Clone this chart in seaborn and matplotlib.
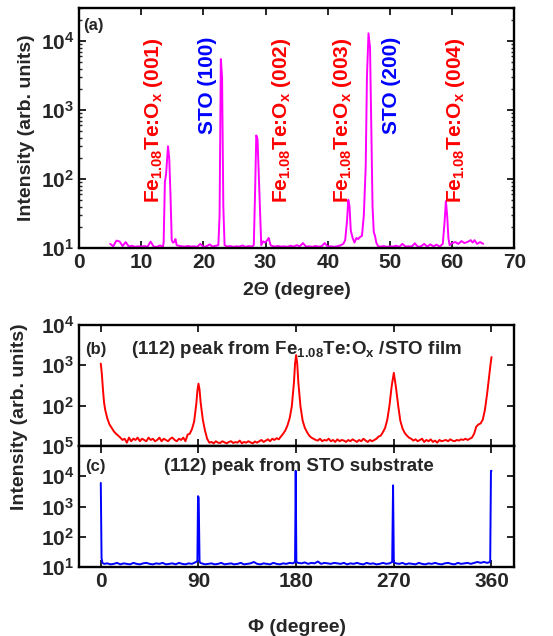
import matplotlib
matplotlib.use("Agg")
import matplotlib.pyplot as plt
import matplotlib.ticker as mticker
import matplotlib.transforms as mtrans
import numpy as np
import seaborn as sns

# ---- panel (a): 2theta scan ----
tt_deg = [5.0, 5.5, 6.0, 6.5, 7.0, 7.5, 8.0, 8.5, 9.0, 9.5, 10.0, 10.5, 11.0, 11.5, 12.0, 12.5,
          13.0, 13.5, 13.6, 13.8, 14.0, 14.3, 14.5, 14.7, 14.9, 15.1, 15.3, 15.5, 15.7, 16.0,
          16.5, 17.0, 17.5, 18.0, 18.5, 19.0, 19.5, 20.0, 20.5, 21.0, 21.5, 22.0, 22.4, 22.6,
          22.8, 23.0, 23.2, 23.4, 23.8, 24.3, 24.8, 25.3, 25.8, 26.3, 26.8, 27.3, 27.8, 28.1,
          28.3, 28.5, 28.7, 28.9, 29.1, 29.3, 29.6, 29.9, 30.2, 30.5, 30.8, 31.2, 31.5, 32.0,
          32.5, 33.0, 33.5, 34.0, 34.5, 35.0, 35.5, 36.0, 36.5, 37.0, 37.5, 38.0, 38.5, 39.0,
          39.5, 40.0, 40.5, 41.0, 41.5, 42.0, 42.5, 42.8, 43.1, 43.3, 43.5, 43.7, 44.0, 44.3,
          44.6, 44.9, 45.2, 45.5, 45.8, 46.1, 46.3, 46.55, 46.8, 47.0, 47.2, 47.4, 47.6, 47.8,
          48.1, 48.5, 49.0, 49.5, 50.0, 50.5, 51.0, 51.5, 52.0, 52.5, 53.0, 53.5, 54.0, 54.5,
          55.0, 55.5, 56.0, 56.5, 57.0, 57.5, 58.0, 58.5, 58.8, 59.0, 59.2, 59.4, 59.6, 60.0,
          60.5, 61.0, 61.5, 62.0, 62.5, 63.0, 63.3, 63.6, 64.0, 64.5, 65.0]
tt_int = [11.5, 10.6, 12.8, 12.5, 10.7, 12.2, 10.5, 10.8, 10.4, 10.6, 10.5, 10.7, 10.4, 12.4, 10.5, 10.4,
          10.9, 10.5, 12.0, 90.0, 120.0, 300.0, 200.0, 60.0, 13.0, 12.0, 12.2, 13.5, 11.0, 10.8,
          10.6, 10.5, 10.7, 10.5, 10.6, 10.4, 11.5, 10.4, 10.6, 11.3, 10.5, 10.8, 11.0, 30.0,
          5500.0, 3000.0, 40.0, 11.0, 10.5, 10.7, 10.4, 10.6, 10.5, 10.9, 10.4, 10.7, 10.5, 11.0,
          60.0, 430.0, 380.0, 120.0, 40.0, 11.0, 12.5, 12.0, 12.8, 14.0, 11.0, 10.6, 10.5, 10.7,
          10.5, 10.6, 10.4, 10.8, 10.5, 11.0, 10.6, 11.8, 10.5, 10.6, 10.4, 10.7, 10.5, 10.6,
          11.8, 10.5, 10.6, 10.4, 10.6, 10.9, 11.5, 13.0, 25.0, 50.0, 40.0, 18.0, 14.0, 12.0,
          14.0, 13.5, 14.5, 15.0, 30.0, 150.0, 3000.0, 13000.0, 8000.0, 500.0, 40.0, 17.0, 15.0, 12.0,
          10.6, 10.5, 10.7, 10.4, 10.6, 10.5, 10.8, 10.4, 11.5, 10.5, 10.6, 10.5, 11.7, 10.4,
          10.6, 11.5, 10.5, 11.3, 10.6, 11.2, 10.5, 11.5, 25.0, 48.0, 30.0, 14.0, 11.0, 11.8,
          12.2, 11.5, 12.6, 11.8, 12.3, 13.0, 12.0, 13.0, 11.5, 12.2, 11.5]

peak_labels = [r"Fe$_{1.08}$Te:O$_x$ (001)", "STO (100)", r"Fe$_{1.08}$Te:O$_x$ (002)",
               r"Fe$_{1.08}$Te:O$_x$ (003)", "STO (200)", r"Fe$_{1.08}$Te:O$_x$ (004)"]
peak_label_x = [11.9, 20.6, 32.6, 42.3, 50.3, 60.5]
peak_label_colors = ["red", "blue", "red", "red", "blue", "red"]

# ---- panel (b): phi scan of film (112), (phi, intensity) ----
film_pts = [(0, 1100), (1, 600), (2, 250), (3, 120), (4, 80), (5, 62), (6, 48), (8, 34), (10, 28),
            (12, 23), (14, 20), (16, 18), (18, 16), (20, 14), (22, 15), (24, 12), (26, 16), (28, 13),
            (30, 15), (32, 14), (34, 16), (36, 13), (38, 15), (40, 14), (42, 13), (44, 16), (46, 14),
            (48, 15), (50, 13), (52, 14), (54, 16), (56, 13), (58, 15), (60, 14), (62, 13), (64, 15),
            (66, 16), (68, 14), (70, 13), (72, 15), (74, 14), (76, 16), (78, 13), (80, 19), (82, 20),
            (84, 26), (86, 40), (88, 110), (89, 230), (90, 350), (91, 250), (92, 120), (94, 45),
            (96, 24), (98, 15), (100, 12), (102, 12.5), (104, 11.5), (106, 13), (108, 12), (110, 11.8),
            (112, 13), (114, 12.2), (116, 11.5), (118, 12.5), (120, 13), (122, 11.8), (124, 12.4),
            (126, 12), (128, 13.5), (130, 11.6), (132, 12.5), (134, 12), (136, 13), (138, 12.2),
            (140, 11.5), (142, 12.8), (144, 12), (146, 13), (148, 14), (150, 12.5), (152, 13.5),
            (154, 14.5), (156, 13), (158, 15), (160, 14), (162, 15.5), (164, 14.5), (166, 17),
            (168, 20), (170, 24), (172, 32), (174, 48), (176, 95), (178, 380), (179, 1100),
            (180, 1800), (181, 1100), (182, 380), (184, 95), (186, 42), (188, 28), (190, 22),
            (192, 18), (194, 16), (196, 15), (198, 14), (200, 13.5), (202, 15), (204, 13), (206, 14),
            (208, 13.5), (210, 15), (212, 13), (214, 14), (216, 12.5), (218, 14.5), (220, 13),
            (222, 14), (224, 13.5), (226, 12.5), (228, 14), (230, 13), (232, 14.5), (234, 13.5),
            (236, 12.5), (238, 14), (240, 13), (242, 15), (244, 13.5), (246, 12.5), (248, 14),
            (250, 13), (252, 14), (254, 15), (256, 17), (258, 18), (260, 22), (262, 28), (264, 45),
            (266, 100), (268, 300), (270, 650), (272, 280), (274, 100), (276, 42), (278, 27),
            (280, 21), (282, 18), (284, 16), (286, 15), (288, 13.5), (290, 14.5), (292, 13),
            (294, 14), (296, 15), (298, 12.5), (300, 14), (302, 13), (304, 14.5), (306, 12.5),
            (308, 13.5), (310, 12), (312, 14), (314, 13), (316, 13.5), (318, 14), (320, 13),
            (322, 14.5), (324, 13.5), (326, 13), (328, 14), (330, 13.5), (332, 14.5), (334, 14),
            (336, 15), (338, 14), (340, 15), (342, 16), (344, 20), (346, 30), (348, 34), (350, 36),
            (352, 45), (354, 80), (356, 200), (358, 600), (359, 1000), (360, 1600)]

# ---- panel (c): phi scan of STO substrate (112), (phi, intensity) ----
sub_pts = [(0, 6000), (0.7, 20), (1.5, 14), (3, 13), (6, 13.5), (9, 12.5), (12, 13), (15, 14),
           (18, 12.5), (21, 13.5), (24, 13), (27, 12.5), (30, 14), (33, 13), (36, 12.5), (39, 13.5),
           (42, 14), (45, 13), (48, 12.5), (51, 13.5), (54, 13), (57, 14), (60, 12.5), (63, 13),
           (66, 13.5), (69, 12.5), (72, 14), (75, 13), (78, 12.5), (81, 13.5), (84, 13), (87, 14.5),
           (89, 16), (89.6, 2200), (90.2, 2000), (91, 16), (91.6, 14), (93, 13.5), (96, 12.5),
           (99, 13), (102, 13.5), (105, 12.5), (108, 13), (111, 14), (114, 12.5), (117, 13),
           (120, 13.5), (123, 12.5), (126, 13), (129, 14), (132, 12.5), (135, 13), (138, 13.5),
           (141, 15), (144, 13), (147, 12.5), (150, 13.5), (153, 13), (156, 12.5), (159, 14),
           (162, 13), (165, 12.5), (168, 13.5), (171, 13), (174, 14), (177, 13.5), (179, 15),
           (179.6, 15000), (180.2, 16), (180.8, 14.5), (182, 14), (185, 13.5), (188, 14.5),
           (191, 13), (194, 14), (197, 13.5), (200, 15.5), (203, 13), (206, 14), (209, 13.5),
           (212, 13), (215, 14), (218, 13.5), (221, 13), (224, 14), (227, 12.5), (230, 13.5),
           (233, 13), (236, 14), (239, 13), (242, 12.5), (245, 14), (248, 13), (251, 13.5),
           (254, 12.5), (257, 13), (260, 14), (263, 13), (266, 13.5), (268.5, 15), (269.3, 5000),
           (270, 15), (270.7, 14), (272, 13.5), (275, 13), (278, 14), (281, 12.5), (284, 13.5),
           (287, 13), (290, 12.5), (293, 14), (296, 13), (299, 12.5), (302, 13.5), (305, 13),
           (308, 14), (311, 13), (314, 12.5), (317, 13.5), (320, 14), (323, 13), (326, 12.5),
           (329, 14), (332, 13), (335, 13.5), (338, 14), (341, 13), (344, 14), (347, 15), (350, 14),
           (353, 15), (356, 14), (358.8, 15), (359.5, 15000), (360, 15000)]

film_phi = [p for p, v in film_pts]
film_int = [v for p, v in film_pts]
sub_phi = [p for p, v in sub_pts]
sub_int = [v for p, v in sub_pts]

sns.set_style("ticks")
plt.rcParams.update({
    "font.family": ["Liberation Sans", "DejaVu Sans"],
    "font.weight": "bold",
    "axes.labelweight": "bold",
    "mathtext.fontset": "custom",
    "mathtext.rm": "Liberation Sans:bold",
    "mathtext.it": "Liberation Sans:bold",
    "mathtext.bf": "Liberation Sans:bold",
    "axes.linewidth": 1.7,
    "xtick.direction": "in",
    "ytick.direction": "in",
    "xtick.top": True,
    "ytick.right": True,
    "xtick.major.size": 5,
    "ytick.major.size": 5,
    "xtick.major.width": 1.4,
    "ytick.major.width": 1.4,
    "ytick.minor.size": 2.5,
    "ytick.minor.width": 1.0,
    "xtick.labelsize": 15,
    "ytick.labelsize": 15,
    "axes.edgecolor": "black",
})

fig = plt.figure(figsize=(5.53, 6.36), dpi=100)
ax_a = fig.add_axes([0.143, 0.610, 0.787, 0.377])
ax_b = fig.add_axes([0.143, 0.299, 0.787, 0.190])
ax_c = fig.add_axes([0.143, 0.108, 0.787, 0.191])

dec_fmt = mticker.FuncFormatter(lambda v, p: r"$10^{%d}$" % round(np.log10(v)))
dec_fmt_b = mticker.FuncFormatter(lambda v, p: "" if v < 11 else r"$10^{%d}$" % round(np.log10(v)))

# (a)
sns.lineplot(x=tt_deg, y=tt_int, ax=ax_a, color="#ff00ff", lw=1.4, sort=False, estimator=None)
ax_a.set_yscale("log")
ax_a.set_xlim(0, 70)
ax_a.set_ylim(10, 3e4)
ax_a.xaxis.set_major_locator(mticker.MultipleLocator(10))
ax_a.yaxis.set_major_locator(mticker.FixedLocator([10, 100, 1000, 10000]))
ax_a.yaxis.set_major_formatter(dec_fmt)
ax_a.yaxis.set_minor_locator(mticker.LogLocator(base=10, subs=np.arange(2, 10), numticks=20))
ax_a.yaxis.set_minor_formatter(mticker.NullFormatter())
ax_a.set_xlabel("2\u0398 (degree)", fontsize=14, labelpad=7)
ax_a.set_ylabel("Intensity (arb. units)", fontsize=14, labelpad=4)
ax_a.text(0.01, 0.93, "(a)", transform=ax_a.transAxes, fontsize=12, ha="left", va="center")
trans = mtrans.blended_transform_factory(ax_a.transData, ax_a.transAxes)
for lab, xp, col in zip(peak_labels, peak_label_x, peak_label_colors):
    ax_a.text(xp, 0.88, lab, transform=trans, rotation=90, color=col, fontsize=15,
              ha="center", va="top")

# (b)
sns.lineplot(x=film_phi, y=film_int, ax=ax_b, color="red", lw=1.4, sort=False, estimator=None)
ax_b.set_yscale("log")
ax_b.set_ylim(10, 1e4)
ax_b.set_xlim(-20, 381)
ax_b.yaxis.set_major_locator(mticker.FixedLocator([10, 100, 1000, 10000]))
ax_b.yaxis.set_major_formatter(dec_fmt_b)
ax_b.yaxis.set_minor_locator(mticker.NullLocator())
ax_b.xaxis.set_major_locator(mticker.FixedLocator([0, 90, 180, 270, 360]))
ax_b.tick_params(axis="x", labelbottom=False)
ax_b.set_xlabel("")
ax_b.text(0.014, 0.80, "(b)", transform=ax_b.transAxes, fontsize=12, ha="left", va="center")
ax_b.text(0.50, 0.80, r"(112) peak from Fe$_{1.08}$Te:O$_x$ /STO film", transform=ax_b.transAxes,
          fontsize=13.5, ha="center", va="center")

# (c)
sns.lineplot(x=sub_phi, y=sub_int, ax=ax_c, color="blue", lw=1.4, sort=False, estimator=None)
ax_c.set_yscale("log")
ax_c.set_ylim(10, 1e5)
ax_c.set_xlim(-20, 381)
ax_c.yaxis.set_major_locator(mticker.FixedLocator([10, 100, 1000, 10000, 100000]))
ax_c.yaxis.set_major_formatter(dec_fmt)
ax_c.yaxis.set_minor_locator(mticker.NullLocator())
ax_c.xaxis.set_major_locator(mticker.FixedLocator([0, 90, 180, 270, 360]))
ax_c.set_xlabel("\u03a6 (degree)", fontsize=14, labelpad=20)
ax_c.text(0.014, 0.83, "(c)", transform=ax_c.transAxes, fontsize=12, ha="left", va="center")
ax_c.text(0.505, 0.83, "(112) peak from STO substrate", transform=ax_c.transAxes,
          fontsize=13.5, ha="center", va="center")

fig.text(0.036, 0.345, "Intensity (arb. units)", rotation=90, fontsize=14,
         ha="center", va="center")

fig.savefig("out.png", dpi=100)
